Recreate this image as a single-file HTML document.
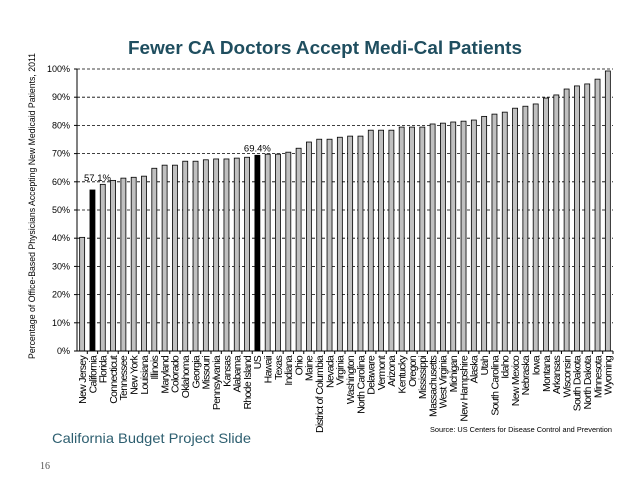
<!DOCTYPE html>
<html><head><meta charset="utf-8"><style>
body{margin:0;background:#fff;width:638px;height:479px;overflow:hidden;font-family:"Liberation Sans",sans-serif}
</style></head><body>
<svg id="c" width="638" height="479" xmlns="http://www.w3.org/2000/svg">
<text x="325" y="54" text-anchor="middle" font-family="Liberation Sans, sans-serif" font-weight="bold" font-size="18" textLength="394" lengthAdjust="spacingAndGlyphs" fill="#1f4e5f">Fewer CA Doctors Accept Medi-Cal Patients</text>
<text transform="translate(35,206) rotate(-90)" text-anchor="middle" font-size="9.5" textLength="306" lengthAdjust="spacingAndGlyphs" fill="#000">Percentage of Office-Based Physicians Accepting New Medicaid Patients, 2011</text>
<text x="52" y="443" font-size="14" textLength="199" lengthAdjust="spacingAndGlyphs" fill="#2e5f70">California Budget Project Slide</text>
<text x="40" y="469" font-family="Liberation Serif, serif" font-size="10" fill="#555">16</text>
<text x="612" y="432" text-anchor="end" font-size="7.5" fill="#000" textLength="182" lengthAdjust="spacingAndGlyphs">Source: US Centers for Disease Control and Prevention</text>
<g id="g"></g>
</svg>
<script>
const categories=["New Jersey","California","Florida","Connecticut","Tennessee","New York","Louisiana","Illinois","Maryland","Colorado","Oklahoma","Georgia","Missouri","Pennsylvania","Kansas","Alabama","Rhode Island","US","Hawaii","Texas","Indiana","Ohio","Maine","District of Columbia","Nevada","Virginia","Washington","North Carolina","Delaware","Vermont","Arizona","Kentucky","Oregon","Mississippi","Massachusetts","West Virginia","Michigan","New Hampshire","Alaska","Utah","South Carolina","Idaho","New Mexico","Nebraska","Iowa","Montana","Arkansas","Wisconsin","South Dakota","North Dakota","Minnesota","Wyoming"];
const values=[40.3,57.1,59.1,60.5,61.3,61.6,62.0,64.8,65.9,65.9,67.3,67.3,67.8,68.1,68.1,68.4,68.7,69.4,69.8,69.8,70.5,71.9,74.1,75.1,75.1,75.8,76.2,76.2,78.3,78.3,78.3,79.4,79.4,79.4,80.5,80.8,81.2,81.5,81.9,83.2,84.0,84.7,86.1,86.8,87.6,89.7,90.8,92.9,94.0,94.7,96.4,99.3];
const highlighted=["California","US"];
const valueLabels={"California":"57.1%","US":"69.4%"};
const yTicks=[0,10,20,30,40,50,60,70,80,90,100];
const NS="http://www.w3.org/2000/svg";
const g=document.getElementById('g');
const X0=77,X1=613,Y0=351,Y100=69;
const slot=(X1-X0)/categories.length;
const y=v=>Y0-(v/100)*(Y0-Y100);
const xc=i=>X0+slot*(i+0.5);
function mk(t,a){const e=document.createElementNS(NS,t);for(const k in a)e.setAttribute(k,a[k]);g.appendChild(e);return e;}
yTicks.forEach(t=>{
  if(t>0){const l=mk('line',{x1:X0,x2:X1,y1:y(t),y2:y(t),stroke:'#000','stroke-width':0.8,'stroke-dasharray':'3,2'});
  
  }
  const tk=mk('line',{x1:X0-3,x2:X0,y1:y(t),y2:y(t),stroke:'#000'});
  
  
  const tx=mk('text',{x:X0-7,y:y(t)+3,'text-anchor':'end','font-size':9,fill:'#000'});
  tx.textContent=t+'%';
  
  
});
categories.forEach((c,i)=>{
  const v=values[i],hl=highlighted.includes(c);
  const r=mk('rect',{x:xc(i)-2.5,y:y(v),width:5,height:Y0-y(v),fill:hl?'#000':'#c0c0c0',stroke:'#000','stroke-width':0.8});
  
  
  const tk=mk('line',{x1:X0+slot*(i+1),x2:X0+slot*(i+1),y1:Y0,y2:Y0+3,stroke:'#000'});
  
  
  const t=mk('text',{transform:`translate(${xc(i)+3.8},${Y0+5}) rotate(-90)`,'text-anchor':'end','font-size':10.5,'letter-spacing':'-0.7',fill:'#000'});
  t.textContent=c;
  
  
  if(valueLabels[c]){
    const vl=mk('text',{x:xc(i)+(c==='US'?0:5),y:y(v)-(c==='US'?4:9),'text-anchor':'middle','font-size':9.5,fill:'#000'});
    vl.textContent=valueLabels[c];
    
    
  }
});
const ax=mk('line',{x1:X0,x2:X0,y1:Y100,y2:Y0,stroke:'#000','stroke-width':1});


const bx=mk('line',{x1:X0-3,x2:X1,y1:Y0,y2:Y0,stroke:'#000','stroke-width':1});


</script>
</body></html>
